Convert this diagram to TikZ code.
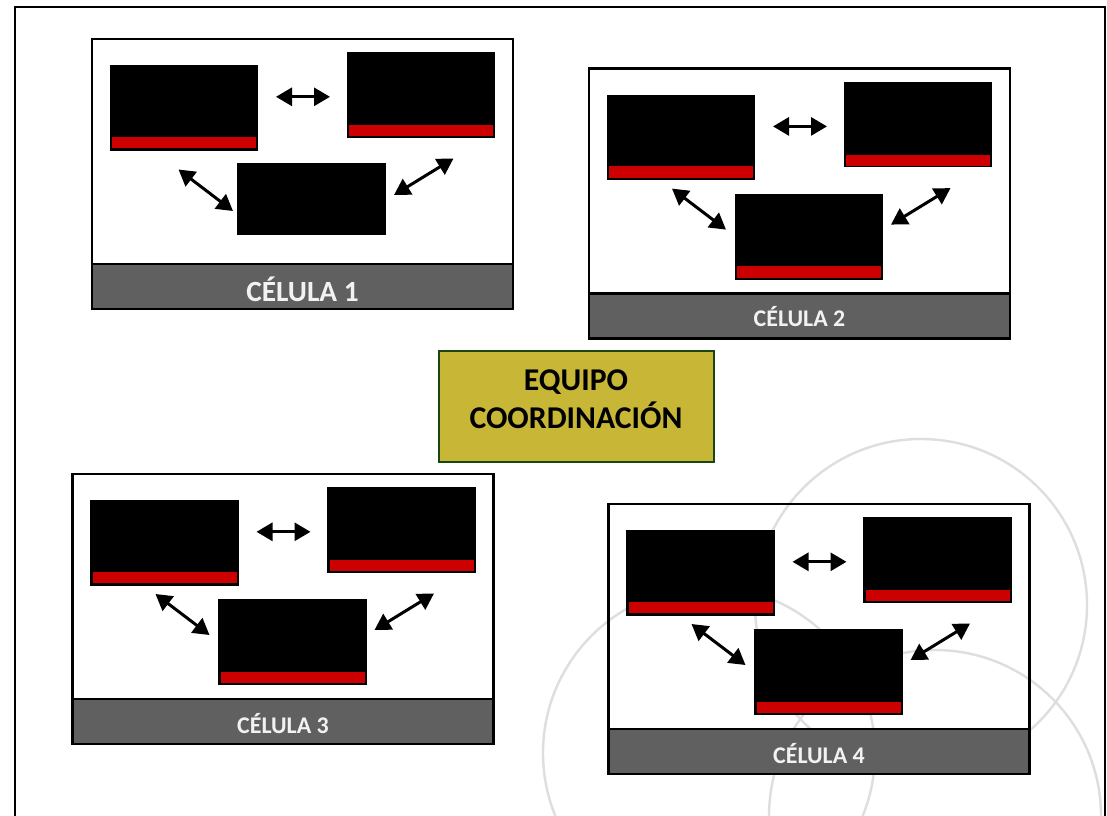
\documentclass[tikz,border=0pt]{standalone}
\usepackage{fontspec}
\setmainfont{Carlito}
\usetikzlibrary{arrows.meta}
\definecolor{panelgray}{RGB}{96,96,96}
\definecolor{barred}{RGB}{204,0,0}
\definecolor{coordfill}{RGB}{200,183,55}
\definecolor{coordline}{RGB}{24,72,16}
\definecolor{ringgray}{RGB}{222,222,222}
\tikzset{
  px/.style={x=1pt,y=-1pt},
  frameline/.style={draw=black,line width=2pt},
  ring/.style={draw=ringgray,line width=2.4pt},
  cellbox/.style={draw=black,line width=2.4pt,anchor=north west,inner sep=0pt,outer sep=0pt,minimum width=421pt,minimum height=225pt},
  panelbox/.style={draw=black,line width=2.4pt,fill=panelgray,anchor=north west,inner sep=0pt,outer sep=0pt,minimum width=421pt,minimum height=45pt},
  panellabel/.style={text=white!95!black,anchor=base,inner sep=0pt,font=\bfseries},
  blackbox/.style={fill=black,anchor=north west,inner sep=0pt,outer sep=0pt,minimum width=148.5pt},
  redbar/.style={fill=barred,anchor=north west,inner sep=0pt,outer sep=0pt,minimum width=144pt,minimum height=11.4pt},
  link/.style={line width=3pt,{Triangle[length=16pt,width=18pt]}-{Triangle[length=16pt,width=18pt]},shorten <=0pt,shorten >=0pt},
}
% #1 prefix, #2 dx, #3 dy, #4 label, #5 font size, #6 label baseline, #7 third box has a bar (1/0)
\newcommand{\teamcell}[7]{%
\begin{scope}[shift={(#2,#3)},name prefix=#1-]
  \node[cellbox] (frame) at (92,39) {};
  \node[panelbox] (panel) at (92,264) {};
  \node[panellabel,font=\bfseries\fontsize{#5}{#5}\selectfont] (label) at (302.5,#6) {#4};
  \node[blackbox,minimum height=85.5pt] (a) at (109.7,65.2) {};
  \node[redbar] (abar) at (112,136.8) {};
  \node[blackbox,minimum height=85.5pt] (b) at (346.8,52.2) {};
  \node[redbar] (bbar) at (349,125) {};
  \coordinate (h1) at (276,96.8);
  \coordinate (h2) at (330,96.8);
  \ifnum#7=1
    \node[blackbox,minimum height=86pt] (c) at (237.5,164) {};
    \node[redbar] (cbar) at (240,236.7) {};
    \coordinate (l1) at (175,159);
    \coordinate (l2) at (229,200);
  \else
    \node[blackbox,minimum height=72pt] (c) at (237,163.3) {};
    \coordinate (l1) at (178.5,169.5);
    \coordinate (l2) at (233,211);
  \fi
  \coordinate (r1) at (394,195);
  \coordinate (r2) at (453.5,158.5);
  \draw[link] (h1) -- (h2);
  \draw[link] (l1) -- (l2);
  \draw[link] (r1) -- (r2);
\end{scope}}
\begin{document}
\begin{tikzpicture}[px]
  \useasboundingbox (0,0) rectangle (1107,815);
  \fill[white] (0,0) rectangle (1107,815);
  \begin{scope}
    \clip (0,0) rectangle (1107,815);
    \draw[ring] (921,605) circle[radius=166];
    \draw[ring] (709,753) circle[radius=166];
    \draw[ring] (935,816) circle[radius=166];
    \draw[frameline] (15,820) -- (15,6.5) -- (1105,6.5) -- (1105,820);
  \end{scope}
  \teamcell{c1}{0}{0}{CÉLULA 1}{29.3}{301.7}{0}
  \teamcell{c2}{497}{29.6}{CÉLULA 2}{23.9}{296.7}{1}
  \teamcell{c3}{-19.5}{435}{CÉLULA 3}{23.9}{298.2}{1}
  \teamcell{c4}{516.5}{465}{CÉLULA 4}{23.9}{298.2}{1}
  \node[draw=coordline,fill=coordfill,line width=2pt,anchor=north west,inner sep=0pt,outer sep=0pt,minimum width=275pt,minimum height=111pt] (coord) at (438.5,350.5) {};
  \node[align=center,inner sep=0pt,font=\bfseries\fontsize{31.7}{38}\selectfont] (coordtext) at (576,399) {EQUIPO\\COORDINACIÓN};
\end{tikzpicture}
\end{document}
